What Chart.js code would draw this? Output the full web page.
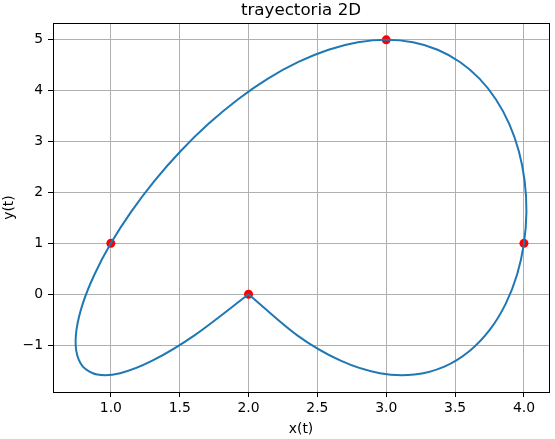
<!DOCTYPE html>
<html>
<head>
<meta charset="utf-8">
<script src="https://cdn.jsdelivr.net/npm/chart.js@4.4.1/dist/chart.umd.min.js"></script>
<style>
  html, body { margin: 0; padding: 0; background: #fff; }
  #wrap { width: 555px; height: 439px; position: relative; }
</style>
</head>
<body>
<div id="wrap"><canvas id="myChart"></canvas></div>
<script>
// curve, from (2,0) round the loop back to (2,0)
const curveX = [2.000, 1.610, 1.301, 1.067, 0.901, 0.797, 0.749, 0.751, 0.797, 0.882,
                1.000, 1.147, 1.317, 1.506, 1.709, 1.922, 2.141, 2.362, 2.581, 2.795,
                3.000, 3.194, 3.373, 3.535, 3.677, 3.797, 3.893, 3.963, 4.005, 4.018,
                4.000, 3.951, 3.869, 3.754, 3.605, 3.422, 3.205, 2.954, 2.669, 2.351,
                2.000];
const curveY = [0.000, -0.803, -1.307, -1.553, -1.579, -1.422, -1.115, -0.691, -0.179, 0.393,
                1.000, 1.619, 2.229, 2.811, 3.349, 3.828, 4.237, 4.565, 4.805, 4.951,
                5.000, 4.951, 4.805, 4.565, 4.237, 3.828, 3.349, 2.811, 2.229, 1.619,
                1.000, 0.393, -0.179, -0.691, -1.115, -1.422, -1.579, -1.553, -1.307, -0.803,
                0.000];

// the red control points
const pointsX = [2, 1, 3, 4];
const pointsY = [0, 1, 5, 1];

const xTicks = [1.0, 1.5, 2.0, 2.5, 3.0, 3.5, 4.0];
const yTicks = [-1, 0, 1, 2, 3, 4, 5];

Chart.defaults.font.family = "'DejaVu Sans', sans-serif";
Chart.defaults.color = '#000';

const frame = {
    id: 'frame',
    afterDraw: function(chart){
        const a = chart.chartArea;
        const ctx = chart.ctx;
        const l = Math.floor(a.left), t = Math.floor(a.top);
        const r = Math.floor(a.right), b = Math.floor(a.bottom);
        ctx.save();
        ctx.strokeStyle = '#000';
        ctx.lineWidth = 1;
        ctx.strokeRect(l + 0.5, t + 0.5, r - l, b - t);
        ctx.restore();
    }
};

const gridOpts = {
    color: '#b0b0b0',
    lineWidth: 1,
    tickColor: '#000',
    tickLength: 5,
    drawTicks: true
};

new Chart(document.getElementById('myChart'), {
    type: 'scatter',
    data: {
        datasets: [{
            data: curveX.map((x, i) => ({x: x, y: curveY[i]})),
            showLine: true,
            borderColor: '#1f77b4',
            borderWidth: 2,
            pointRadius: 0,
            tension: 0.3,
            order: 1
        }, {
            data: pointsX.map((x, i) => ({x: x, y: pointsY[i]})),
            backgroundColor: '#ff0000',
            borderWidth: 0,
            pointRadius: 4.5,
            order: 2
        }]
    },
    plugins: [frame],
    options: {
        responsive: true,
        maintainAspectRatio: false,
        animation: false,
        layout: {padding: {left: 0, top: 0, right: 6, bottom: 0}},
        plugins: {
            legend: {display: false},
            tooltip: {enabled: false},
            title: {
                display: true,
                text: 'trayectoria 2D',
                fullSize: false,
                color: '#000',
                font: {size: 16.7, weight: 'normal'},
                padding: {top: 1, bottom: 2}
            }
        },
        scales: {
            x: {
                type: 'linear',
                position: 'bottom',
                min: 0.580,
                max: 4.182,
                afterBuildTicks: function(scale){ scale.ticks = xTicks.map(v => ({value: v})); },
                afterFit: function(scale){ scale.height = 47; },
                grid: gridOpts,
                border: {display: false},
                ticks: {
                    color: '#000',
                    font: {size: 13.9},
                    padding: 3,
                    maxRotation: 0,
                    autoSkip: false,
                    callback: v => v.toFixed(1)
                },
                title: {
                    display: true,
                    text: 'x(t)',
                    color: '#000',
                    font: {size: 13.9},
                    padding: {top: 0, bottom: 1}
                }
            },
            y: {
                type: 'linear',
                position: 'left',
                min: -1.922,
                max: 5.330,
                afterBuildTicks: function(scale){ scale.ticks = yTicks.map(v => ({value: v})); },
                afterFit: function(scale){ scale.width = 53; },
                grid: gridOpts,
                border: {display: false},
                ticks: {
                    color: '#000',
                    font: {size: 13.9},
                    padding: 5,
                    autoSkip: false,
                    callback: v => v < 0 ? '\u2212' + Math.abs(v) : String(v)
                },
                title: {
                    display: true,
                    text: 'y(t)',
                    color: '#000',
                    font: {size: 13.9},
                    padding: {top: 1, bottom: 0}
                }
            }
        }
    }
});
</script>
</body>
</html>
